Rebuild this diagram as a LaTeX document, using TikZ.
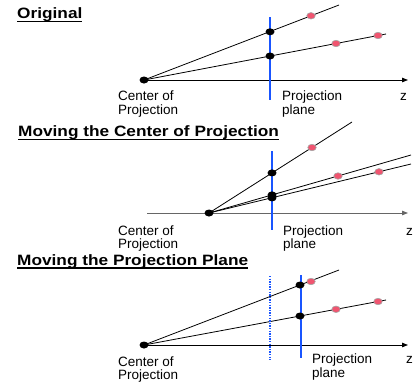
\documentclass[tikz,border=0pt]{standalone}
\usepackage{fontspec}
\setmainfont{Liberation Sans}
\newfontfamily\titlefont[FakeStretch=1.15]{Liberation Sans}
\usetikzlibrary{shapes.geometric,arrows.meta}
\definecolor{planeblue}{RGB}{25,85,255}
\definecolor{ptpink}{RGB}{240,85,112}
\newcommand\myul[1]{\setbox0\hbox{#1}\rlap{\copy0}\rule[-3.6pt]{\wd0}{1.3pt}}
\pgfdeclarelayer{bg}
\pgfsetlayers{bg,main}
\begin{document}
\begin{tikzpicture}[x=1pt,y=-1pt,
 bdot/.style={ellipse,fill=black,inner sep=0,minimum width=9pt,minimum height=7pt},
 pdot/.style={ellipse,fill=ptpink,draw=black!35,line width=0.6pt,inner sep=0,minimum width=8.5pt,minimum height=6.5pt},
 ray/.style={line width=0.8pt},
 axis/.style={line width=0.9pt,-{Triangle[length=6pt,width=4.5pt]}},
 plane/.style={planeblue,line width=2pt},
 lbl/.style={anchor=base west,align=left,inner sep=0,font=\fontsize{13.5}{13.5}\selectfont},
 ttl/.style={anchor=base west,inner sep=0,font=\titlefont\bfseries\fontsize{15}{18}\selectfont}]
\useasboundingbox (0,0) rectangle (414,381);

% ---------- Panel 1: Original ----------
\node[ttl] (t1) at (17,18.5) {\myul{Original}};
\node[bdot] (c1) at (144,80) {};
\coordinate (z1) at (408,80);
\coordinate (p1t) at (270,17);
\coordinate (p1b) at (270,100);
\coordinate (u1) at (339,5);
\coordinate (l1) at (386,34);
\node[bdot] (b1u) at (270,31.8) {};
\node[bdot] (b1l) at (270,56) {};
\node[pdot] (r1u) at (311,15.8) {};
\node[pdot] (r1a) at (336,43.5) {};
\node[pdot] (r1b) at (378,35.5) {};
\begin{pgfonlayer}{bg}
\draw[axis] (c1.center) -- (z1);
\draw[ray] (c1.center) -- (u1);
\draw[ray] (c1.center) -- (l1);
\draw[plane] (p1t) -- (p1b);
\end{pgfonlayer}
\node[lbl] (cop1) at (118,114) {Center of\\Projection};
\node[lbl] (pp1) at (282,114) {Projection\\plane};
\node[lbl] (zl1) at (400,100) {z};

% ---------- Panel 2: Moving the Center of Projection ----------
\node[ttl] (t2) at (18,136.5) {\myul{Moving the Center of Projection}};
\node[bdot] (c2) at (209,213) {};
\coordinate (a2s) at (147,213);
\coordinate (z2) at (408,213);
\coordinate (p2t) at (272,151);
\coordinate (p2b) at (272,230);
\coordinate (u2) at (352,122);
\coordinate (la2) at (411,155);
\coordinate (lb2) at (411,164);
\node[bdot] (b2u) at (272,172.9) {};
\node[bdot] (b2a) at (272,194.9) {};
\node[bdot] (b2b) at (272,197.9) {};
\node[pdot] (r2u) at (312,147.5) {};
\node[pdot] (r2a) at (338,176) {};
\node[pdot] (r2b) at (379,171.8) {};
\begin{pgfonlayer}{bg}
\draw[axis,draw=black!60] (a2s) -- (z2);
\draw[ray] (c2.center) -- (u2);
\draw[ray] (c2.center) -- (la2);
\draw[ray] (c2.center) -- (lb2);
\draw[plane] (p2t) -- (p2b);
\end{pgfonlayer}
\node[lbl] (cop2) at (118,248.5) {Center of\\Projection};
\node[lbl] (pp2) at (283,248.5) {Projection\\plane};
\node[lbl] (zl2) at (406,235) {z};

% ---------- Panel 3: Moving the Projection Plane ----------
\node[ttl] (t3) at (17,265) {\myul{Moving the Projection Plane}};
\node[bdot] (c3) at (144,345) {};
\coordinate (z3) at (408,345);
\coordinate (o3t) at (270,276);
\coordinate (o3b) at (270,360);
\coordinate (p3t) at (301,275);
\coordinate (p3b) at (301,358);
\coordinate (u3) at (339,270);
\coordinate (l3) at (386,300);
\node[bdot] (b3u) at (300,285) {};
\node[bdot] (b3l) at (300,316) {};
\node[pdot] (r3u) at (311,281.5) {};
\node[pdot] (r3a) at (336,309.3) {};
\node[pdot] (r3b) at (378,301.5) {};
\begin{pgfonlayer}{bg}
\draw[axis] (c3.center) -- (z3);
\draw[ray] (c3.center) -- (u3);
\draw[ray] (c3.center) -- (l3);
\draw[planeblue,line width=1.3pt,dash pattern=on 1.4pt off 1.2pt] (o3t) -- (o3b);
\draw[plane] (p3t) -- (p3b);
\end{pgfonlayer}
\node[lbl] (cop3) at (118,379.5) {Center of\\Projection};
\node[lbl] (pp3) at (312,377) {Projection\\plane};
\node[lbl] (zl3) at (406,363) {z};
\end{tikzpicture}
\end{document}
